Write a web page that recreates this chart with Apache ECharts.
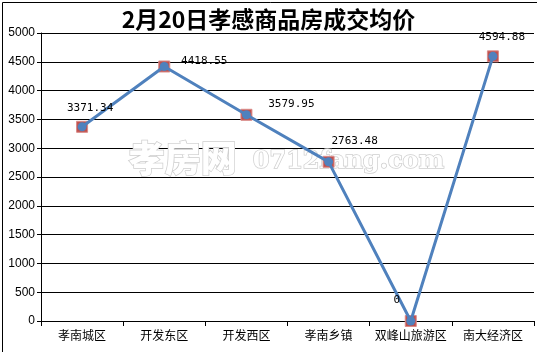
<!DOCTYPE html>
<html><head><meta charset="utf-8">
<script src="https://cdn.jsdelivr.net/npm/echarts@6/dist/echarts.min.js"></script>
<style>html,body{margin:0;padding:0;background:#fff}#c{width:537px;height:352px;box-sizing:border-box;}</style>
</head><body><div id="c"></div>
<script>
const categories = ['孝南城区','开发东区','开发西区','孝南乡镇','双峰山旅游区','南大经济区'];
const prices = [3371.34, 4418.55, 3579.95, 2763.48, 0, 4594.88];
const yTicks = [0,500,1000,1500,2000,2500,3000,3500,4000,4500,5000];
const labelOffsets = [[8,-8],[40,6],[45,0],[26,-10],[-14,-10],[9,-8]];

const chart = echarts.init(document.getElementById('c'));
chart.setOption({
  backgroundColor:'#fff',
  animation:false,
  title:{text:'2月20日孝感商品房成交均价',left:'center',top:3,
    textStyle:{fontFamily:'Noto Sans CJK SC',fontSize:23,fontWeight:'bold',color:'#000',
      textShadowColor:'rgba(40,80,200,0.6)',textShadowOffsetX:1,textShadowOffsetY:1,textShadowBlur:0}},
  grid:{left:41,right:3,top:33,bottom:31,containLabel:false},
  graphic:[
    {type:'rect',left:0,top:0,shape:{width:536,height:351},style:{fill:'none',stroke:'#000',lineWidth:1},silent:true,z:-1},
    {type:'text',left:128,top:140,z:1,style:{text:'孝房网',font:'900 36px "Noto Sans CJK SC"',fill:'#fff',stroke:'#cfcfcf',lineWidth:1.5}},
    {type:'text',left:252,top:149,z:1,style:{text:'0712fang.com',font:'bold 24px "DejaVu Serif"',fill:'#fff',stroke:'#cfcfcf',lineWidth:1.5}}
  ],
  xAxis:{type:'category',data:categories,boundaryGap:true,
    axisLine:{lineStyle:{color:'#000',width:1}},
    axisTick:{show:true,length:5,lineStyle:{color:'#000'},alignWithLabel:false},
    axisLabel:{color:'#000',fontFamily:'Noto Sans CJK SC',fontSize:12,margin:8,interval:0}},
  yAxis:{type:'value',min:yTicks[0],max:yTicks[yTicks.length-1],interval:500,
    axisLine:{show:true,lineStyle:{color:'#000',width:1}},
    axisTick:{show:true,length:4,lineStyle:{color:'#000'}},
    axisLabel:{color:'#000',fontFamily:'Liberation Sans',fontSize:12,margin:6,formatter:v=>String(v)},
    splitLine:{lineStyle:{color:'#000',width:1}}},
  series:[
    {type:'line',data:prices,symbol:'rect',symbolSize:11,z:3,
      lineStyle:{width:0,opacity:0},
      itemStyle:{color:'#c0504d',borderColor:'#d98a88',borderWidth:1},
      label:{show:false}},
    {type:'line',data:prices.map((v,i)=>({value:v,label:{offset:labelOffsets[i]}})),
      symbol:'circle',symbolSize:9,z:4,
      lineStyle:{color:'#4f81bd',width:3},
      itemStyle:{color:'#4f81bd'},
      label:{show:true,position:'top',distance:1,color:'#000',fontFamily:'DejaVu Sans Mono',fontSize:11,
        formatter:p=>String(p.value)}}
  ]
});
</script></body></html>
